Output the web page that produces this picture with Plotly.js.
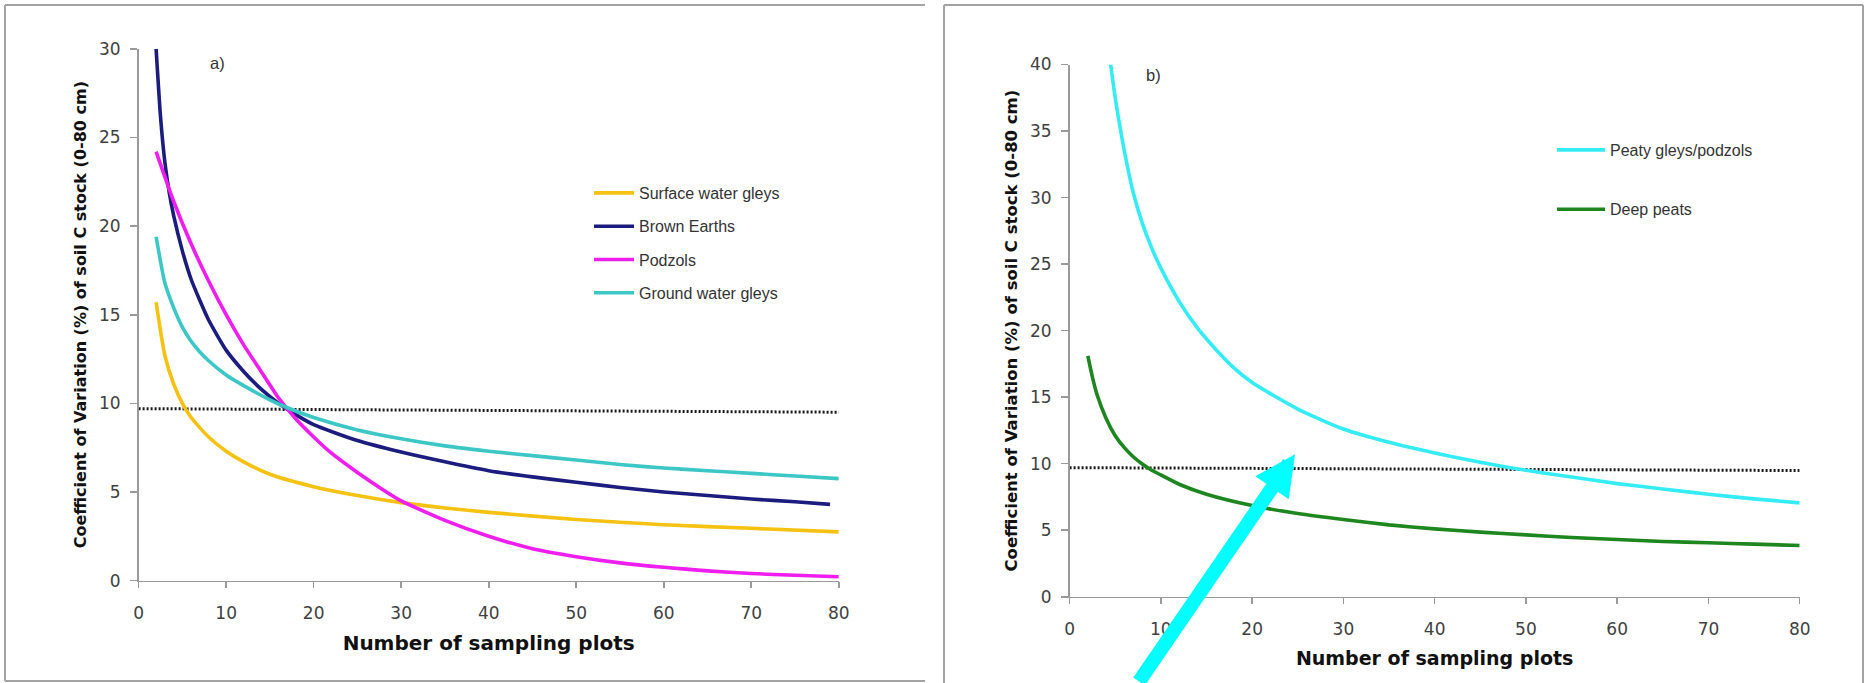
<!DOCTYPE html>
<html>
<head>
<meta charset="utf-8">
<script src="https://cdn.plot.ly/plotly-3.0.1.min.js"></script>
<style>html,body{margin:0;padding:0;background:#fff;}#chart{width:1866px;height:683px;}</style>
</head>
<body>
<div id="chart"></div>
<script>
// ---- Data ----
// Panel a)
const xSWG = [2,3,4,5,6,8,10,12,15,20,25,30,35,40,50,60,70,80];
const ySWG = [15.7,12.7,11.1,10.0,9.2,8.1,7.3,6.7,6.0,5.3,4.8,4.4,4.1,3.85,3.45,3.15,2.95,2.75];

const xBE = [2,2.5,3,3.5,4,5,6,7,8,10,12,14,16,18,20,25,30,35,40,45,50,55,60,65,70,75,79];
const yBE = [30,26.2,23.6,21.9,20.6,18.6,17.0,15.8,14.7,13.0,11.8,10.8,10.0,9.35,8.8,7.9,7.25,6.7,6.2,5.85,5.55,5.25,5.0,4.8,4.6,4.45,4.3];

const xPOD = [2,4,6,8,10,12,14,16,18,20,22,25,28,30,35,40,45,50,55,60,65,70,75,80];
const yPOD = [24.2,21.4,19.0,16.9,15.0,13.3,11.8,10.3,9.1,8.1,7.2,6.1,5.1,4.5,3.4,2.5,1.8,1.35,1.0,0.75,0.55,0.4,0.3,0.22];

const xGWG = [2,3,4,5,6,7,8,10,12,15,17,20,25,30,35,40,45,50,55,60,65,70,75,80];
const yGWG = [19.4,16.8,15.4,14.3,13.5,12.9,12.4,11.6,11.0,10.2,9.75,9.2,8.5,8.0,7.6,7.3,7.05,6.8,6.55,6.35,6.2,6.05,5.9,5.75];

const xRefA = [0, 80];
const yRefA = [9.7, 9.5];

// Panel b)
const xPG = [4.5,5,6,7,8,9,10,12,14,16,18,20,25,30,35,40,45,50,55,60,65,70,75,80];
const yPG = [40,37.5,33.5,30.3,28.0,26.2,24.7,22.2,20.2,18.6,17.2,16.1,14.1,12.6,11.6,10.8,10.1,9.5,9.0,8.5,8.1,7.7,7.35,7.05];

const xDP = [2,2.5,3,4,5,6,7,8,9,10,12,15,20,25,30,35,40,45,50,55,60,65,70,75,80];
const yDP = [18.1,16.5,15.2,13.4,12.1,11.2,10.5,9.95,9.5,9.15,8.45,7.7,6.85,6.25,5.8,5.4,5.1,4.85,4.65,4.45,4.3,4.15,4.05,3.95,3.85];

const xRefB = [0, 80.7];
const yRefB = [9.7, 9.48];

const namesA = ["Surface water gleys", "Brown Earths", "Podzols", "Ground water gleys"];
const namesB = ["Peaty gleys/podzols", "Deep peats"];
const xTitle = "Number of sampling plots";
const yTitle = "Coefficient of Variation (%) of soil C stock (0-80 cm)";
const panelLabels = ["a)", "b)"];

// ---- Layout helpers ----
const W = 1866, H = 683;
const px = v => v / W;
const py = v => 1 - v / H;

function curve(x, y, name, color, xa, ya, leg) {
  return {
    x: x, y: y, name: name, type: 'scatter', mode: 'lines',
    xaxis: xa, yaxis: ya, legend: leg, legendgroup: name,
    line: {color: color, width: 3.6, shape: 'spline', smoothing: 0.6},
    cliponaxis: false, hoverinfo: 'skip'
  };
}
function refLine(x, y, xa, ya) {
  return {
    x: x, y: y, type: 'scatter', mode: 'lines', xaxis: xa, yaxis: ya,
    showlegend: false, line: {color: '#1a1a1a', width: 3, dash: '2px,2px'},
    cliponaxis: false, hoverinfo: 'skip'
  };
}

const traces = [
  refLine(xRefA, yRefA, 'x', 'y'),
  curve(xSWG, ySWG, namesA[0], '#F5C213', 'x', 'y', 'legend'),
  curve(xBE, yBE, namesA[1], '#1C1C7E', 'x', 'y', 'legend'),
  curve(xPOD, yPOD, namesA[2], '#EE1EEE', 'x', 'y', 'legend'),
  curve(xGWG, yGWG, namesA[3], '#3CC6C6', 'x', 'y', 'legend'),
  refLine(xRefB, yRefB, 'x2', 'y2'),
  curve(xPG, yPG, namesB[0], '#36ECF4', 'x2', 'y2', 'legend2'),
  curve(xDP, yDP, namesB[1], '#1E861E', 'x2', 'y2', 'legend2')
];

const tickFont = {family: 'DejaVu Sans', size: 17, color: '#404040'};
function xAxis(domain, anchor, tsize, standoff) {
  return {
    domain: domain, anchor: anchor, range: [0, 80], dtick: 10, tick0: 0,
    showgrid: false, zeroline: false, showline: true, linecolor: '#9a9a9a', linewidth: 1.6,
    ticks: 'outside', ticklen: 6, tickwidth: 1.6, tickcolor: '#9a9a9a',
    tickfont: tickFont, ticklabelstandoff: 10,
    title: {text: xTitle, standoff: standoff, font: {family: 'DejaVu Sans', size: tsize, weight: 'bold', color: '#111'}},
    automargin: false, fixedrange: true
  };
}
function yAxis(domain, anchor, max, tsize) {
  return {
    domain: domain, anchor: anchor, range: [0, max], dtick: 5, tick0: 0,
    showgrid: false, zeroline: false, showline: true, linecolor: '#9a9a9a', linewidth: 1.6,
    ticks: 'outside', ticklen: 7, tickwidth: 1.6, tickcolor: '#9a9a9a',
    tickfont: tickFont, ticklabelstandoff: 6,
    title: {text: yTitle, standoff: 8, font: {family: 'DejaVu Sans', size: tsize, weight: 'bold', color: '#111'}},
    automargin: false, fixedrange: true
  };
}

const frame = {type: 'line', xref: 'paper', yref: 'paper', line: {color: '#a3a3a3', width: 2}};
const shapes = [
  // frame of panel a)
  Object.assign({}, frame, {x0: px(5), x1: px(925), y0: py(5), y1: py(5)}),
  Object.assign({}, frame, {x0: px(5), x1: px(5), y0: py(5), y1: py(681)}),
  Object.assign({}, frame, {x0: px(5), x1: px(925), y0: py(681), y1: py(681)}),
  // frame of panel b)
  Object.assign({}, frame, {x0: px(944), x1: px(1863), y0: py(5), y1: py(5)}),
  Object.assign({}, frame, {x0: px(944), x1: px(944), y0: py(5), y1: py(690)}),
  Object.assign({}, frame, {x0: px(1863), x1: px(1863), y0: py(5), y1: py(690)})
];

const labelFont = {family: 'Liberation Sans', size: 16.5, color: '#333'};
const annotations = [
  {xref: 'x', yref: 'y', x: 9.0, y: 29.2, text: panelLabels[0], showarrow: false, font: labelFont},
  {xref: 'x2', yref: 'y2', x: 9.15, y: 39.2, text: panelLabels[1], showarrow: false, font: labelFont},
  {xref: 'x2', yref: 'y2', x: 24.7, y: 10.7, text: '', showarrow: true,
   ax: -157, ay: 229, arrowcolor: '#00FFFF', arrowwidth: 14, arrowhead: 2, arrowsize: 0.58, standoff: 0}
];

const legendFont = {family: 'Liberation Sans', size: 16, color: '#333'};
const layout = {
  width: W, height: H,
  margin: {l: 0, r: 0, t: 0, b: 0},
  paper_bgcolor: '#fff', plot_bgcolor: '#fff',
  showlegend: true,
  xaxis: xAxis([px(138.6), px(838.8)], 'y', 20, 14),
  yaxis: yAxis([py(580.6), py(48.8)], 'x', 30, 16),
  xaxis2: xAxis([px(1069.6), px(1799.7)], 'y2', 19, 14),
  yaxis2: yAxis([py(596.7), py(64.5)], 'x2', 40, 16.5),
  legend: {x: px(589), y: py(176), xanchor: 'left', yanchor: 'top', bgcolor: 'rgba(0,0,0,0)',
           font: legendFont, tracegroupgap: 9.5, itemwidth: 40, itemclick: false, itemdoubleclick: false},
  legend2: {x: px(1552), y: py(133), xanchor: 'left', yanchor: 'top', bgcolor: 'rgba(0,0,0,0)',
            font: legendFont, tracegroupgap: 35.5, itemwidth: 48, itemclick: false, itemdoubleclick: false},
  shapes: shapes,
  annotations: annotations
};

Plotly.newPlot('chart', traces, layout, {displayModeBar: false, staticPlot: true});
</script>
</body>
</html>
